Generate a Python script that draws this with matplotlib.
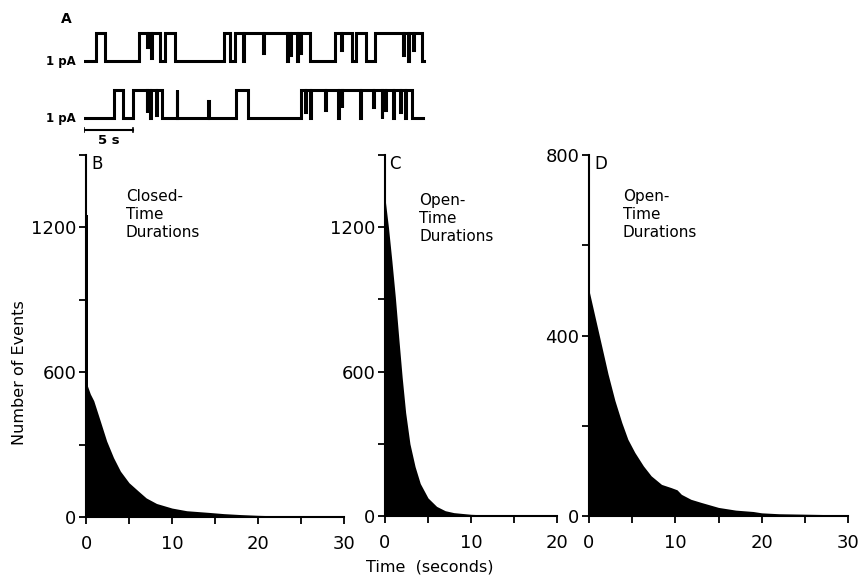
import numpy as np
import matplotlib
matplotlib.use("Agg")
import matplotlib.pyplot as plt

# ---- histogram data (time in s, number of events) ----
# B: closed-time durations (first narrow bin is the spike at t=0)
closed_spike_t = 0.0
closed_spike_w = 0.2
closed_spike_n = 1250
closed_t = [0.0, 0.15, 0.5, 0.9, 1.65, 2.4, 3.2, 4.0, 5.0, 6.1, 7.0, 8.2, 10.0,
            11.7, 14.3, 16.0, 18.0, 20.0, 22.0, 25.0, 28.0, 30.0]
closed_n = [545, 545, 510, 482, 399, 315, 246, 190, 142, 107, 79, 56, 37,
            26, 19, 14, 10, 7, 5, 3, 2, 1]

# C: open-time durations
openC_t = [0.0, 0.4, 0.8, 1.2, 1.6, 2.0, 2.4, 2.9, 3.5, 4.1, 5.0, 6.0, 7.0,
           8.0, 10.0, 12.0, 15.0, 20.0]
openC_n = [1320, 1200, 1060, 910, 740, 575, 430, 300, 205, 135, 75, 40, 22,
           14, 7, 4, 2, 1]

# D: open-time durations
openD_t = [0.0, 0.7, 1.5, 2.2, 3.0, 3.8, 4.5, 5.3, 6.3, 7.2, 8.4, 9.5, 10.2,
           10.7, 11.8, 13.0, 15.0, 17.0, 19.0, 20.0, 22.0, 25.0, 28.0, 30.0]
openD_n = [500, 441, 374, 315, 256, 207, 170, 141, 111, 89, 70, 63, 58,
           48, 37, 30, 19, 13, 10, 7, 5, 4, 3, 2]

# ---- single-channel traces (panel A), times in s ----
trace1_end = 34.7
trace1_open = [(1.22, 2.14), (5.61, 7.76), (8.27, 9.29), (14.29, 14.90),
               (15.41, 23.06), (25.61, 27.35), (27.76, 28.78), (29.69, 34.49)]
trace1_dips = [(6.43, 0.5), (6.84, 0.9), (16.22, 1.0), (18.27, 0.7),
               (20.71, 1.0), (21.02, 0.8), (21.73, 1.0), (22.04, 0.7),
               (26.22, 0.6), (32.55, 0.8), (33.06, 1.0), (33.57, 0.6)]
trace1_ups = []

trace2_end = 34.6
trace2_open = [(3.06, 3.98), (5.00, 7.96), (15.51, 16.73), (22.14, 33.47)]
trace2_dips = [(6.40, 0.8), (6.73, 1.0), (7.35, 0.9), (22.55, 0.8),
               (23.06, 1.0), (24.59, 0.7), (25.95, 1.0), (26.29, 0.6),
               (28.16, 1.0), (29.52, 0.6), (30.37, 1.0), (30.71, 0.7),
               (31.56, 1.0), (32.24, 0.8), (32.76, 1.0)]
trace2_ups = [(9.46, 1.0), (12.65, 0.6)]

plt.rcParams['font.family'] = ['DejaVu Sans']

W, H = 860, 581
fig = plt.figure(figsize=(W / 100, H / 100), dpi=100)


def px_axes(x0, x1, ytop, ybot):
    return fig.add_axes([x0 / W, 1 - ybot / H, (x1 - x0) / W, (ybot - ytop) / H])


def build_trace(t_end, openings, dips, ups, w=0.07):
    edges = {0.0, t_end}
    for s, e in openings:
        edges.update([s, e])
    for t, d in dips + ups:
        edges.update([t, t + w])
    edges = sorted(edges)

    def level(t):
        lv = 0.0
        for s, e in openings:
            if s <= t < e:
                lv = 1.0
        for tt, d in dips:
            if tt <= t < tt + w:
                lv -= d
        for tt, d in ups:
            if tt <= t < tt + w:
                lv += d
        return lv

    ys = [level(t) for t in edges[:-1]] + [level(edges[-2])]
    return np.array(edges), np.array(ys)


# ---- panel A ----
axA = px_axes(84, 84 + 9.8 * 35, 0, 150)
axA.set_xlim(0, 35)
axA.set_ylim(0, 150 / 28)
axA.axis('off')
base1 = (150 - 61) / 28
base2 = (150 - 118) / 28
for end, op, dp, up, base in [(trace1_end, trace1_open, trace1_dips, trace1_ups, base1),
                              (trace2_end, trace2_open, trace2_dips, trace2_ups, base2)]:
    tx, ty = build_trace(end, op, dp, up)
    axA.step(tx, ty + base, where='post', color='black', lw=2.2, solid_joinstyle='miter')
    axA.text(-0.8, base, '1 pA', ha='right', va='center', fontsize=8.5,
             fontweight='bold')
bar_y = (150 - 130) / 28
axA.plot([0, 5], [bar_y, bar_y], color='black', lw=1.5)
axA.plot([0, 0], [bar_y - 0.08, bar_y + 0.08], color='black', lw=1.2)
axA.plot([5, 5], [bar_y - 0.08, bar_y + 0.08], color='black', lw=1.2)
axA.text(2.5, bar_y - 0.15, '5 s', ha='center', va='top', fontsize=9.5,
         fontweight='bold')
axA.text(-1.8, (150 - 19) / 28, 'A', ha='center', va='center', fontsize=10,
         fontweight='bold')


def style(ax, xmax, ymax, ystep, ylabels, letter, txt_xy):
    ax.set_xlim(0, xmax)
    ax.set_ylim(0, ymax)
    for s in ['top', 'right']:
        ax.spines[s].set_visible(False)
    for s in ['left', 'bottom']:
        ax.spines[s].set_linewidth(1.5)
    xt = np.arange(0, xmax + 1, 5)
    ax.set_xticks(xt)
    ax.set_xticklabels([str(int(v)) if v % 10 == 0 else '' for v in xt])
    yt = np.arange(0, ymax + 1, ystep)
    ax.set_yticks(yt)
    ax.set_yticklabels([str(int(v)) if v in ylabels else '' for v in yt])
    ax.tick_params(direction='out', length=5, width=1.3, labelsize=13)
    ax.tick_params(axis='x', pad=8)
    ax.tick_params(axis='y', pad=2)
    ax.text(0.022, 1.0, letter, transform=ax.transAxes, ha='left', va='top',
            fontsize=12)
    ax.text(txt_xy[0], txt_xy[1], txt_xy[2], transform=ax.transAxes,
            ha='left', va='top', fontsize=11, linespacing=1.25)


axB = px_axes(86, 86 + 258, 155, 517)
axB.bar(closed_spike_t, closed_spike_n, width=closed_spike_w, align='edge',
        color='black', lw=0)
axB.fill_between(closed_t, closed_n, color='black', lw=0)
style(axB, 30, 1500, 300, [0, 600, 1200], 'B',
      (0.155, 0.906, 'Closed-\nTime\nDurations'))

axC = px_axes(385, 385 + 172, 155, 516)
axC.fill_between(openC_t, openC_n, color='black', lw=0)
style(axC, 20, 1500, 300, [0, 600, 1200], 'C',
      (0.2, 0.896, 'Open-\nTime\nDurations'))

axD = px_axes(589, 589 + 259, 155, 516)
axD.fill_between(openD_t, openD_n, color='black', lw=0)
style(axD, 30, 800, 200, [0, 400, 800], 'D',
      (0.13, 0.905, 'Open-\nTime\nDurations'))

fig.text(20 / W, 1 - 373 / H, 'Number of Events', rotation=90, ha='center',
         va='center', fontsize=11.5)
fig.text(430 / W, 1 - 567 / H, 'Time  (seconds)', ha='center', va='center',
         fontsize=11.5)

fig.savefig('out.png', dpi=100)
